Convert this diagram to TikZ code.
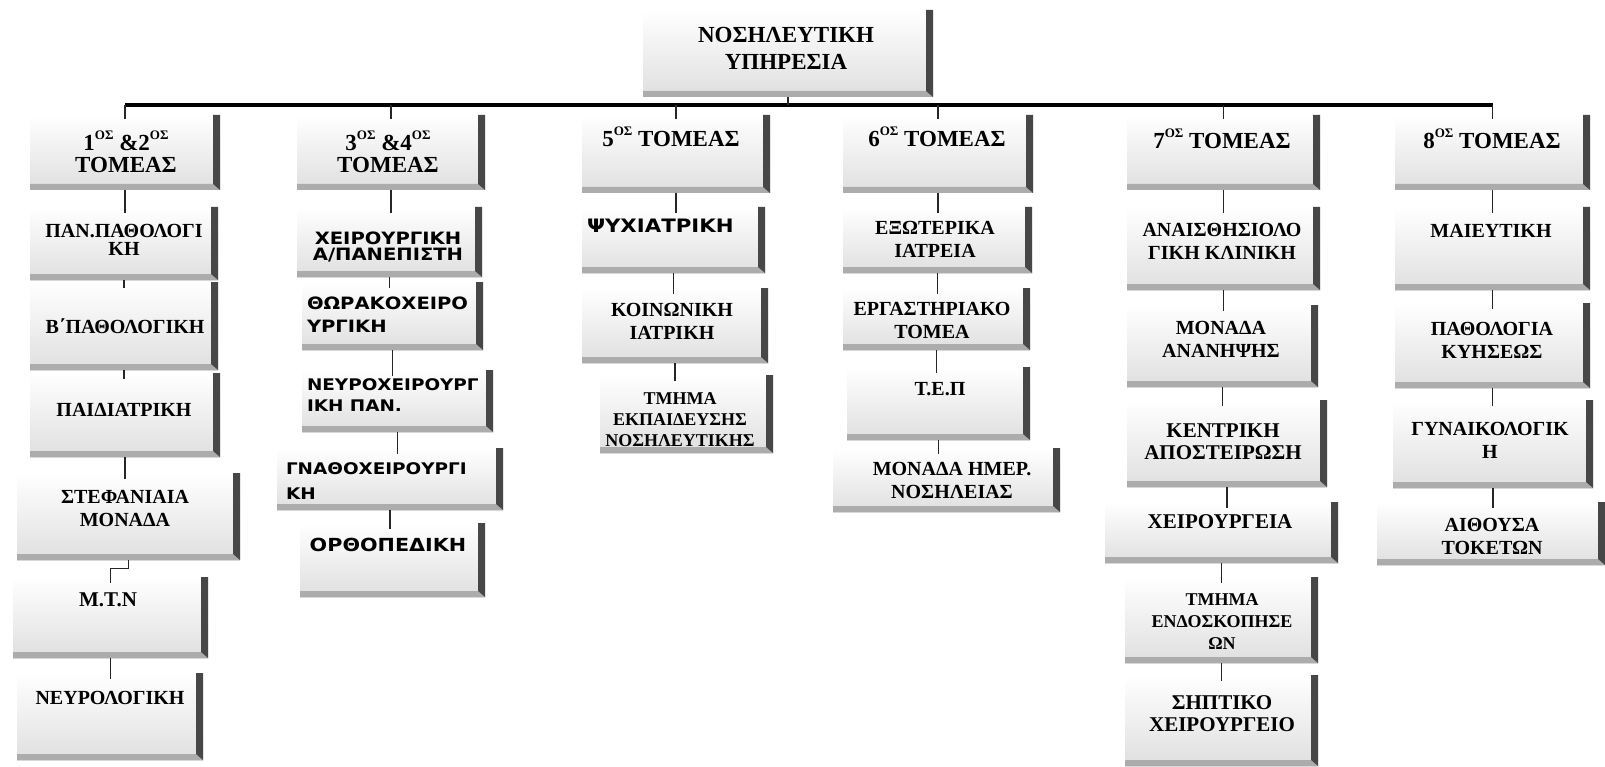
\documentclass[tikz,border=0pt]{standalone}
\usepackage{fontspec}
\setmainfont{Liberation Serif}
\newfontfamily\sansx{DejaVu Sans}[FakeStretch=1.15]
\usetikzlibrary{calc}
\newcommand\fs[2]{\fontsize{#1pt}{#2pt}\selectfont}
\newcommand\sups[1]{\raisebox{0.5em}{\fontsize{13pt}{13pt}\selectfont #1}}
\tikzset{
  bx/.style={inner sep=0pt, outer sep=0pt, top color=white, bottom color=gray!25,
    path picture={
      \coordinate (pne) at (path picture bounding box.north east);
      \coordinate (pse) at (path picture bounding box.south east);
      \coordinate (psw) at (path picture bounding box.south west);
      \fill[gray!65] (psw) -- (pse) -- ([shift={(-7pt,6pt)}]pse) -- ([yshift=6pt]psw) -- cycle;
      \fill[black!72] (pne) -- (pse) -- ([shift={(-7pt,6pt)}]pse) -- ([xshift=-7pt]pne) -- cycle;
    }},
  txt/.style={inner sep=0pt, outer sep=0pt, align=center, text=black, font=\bfseries\fs{20}{23}},
  hdr/.style={font=\bfseries\fs{23}{22}},
  conn/.style={draw=black!85, line width=1.6pt},
  busline/.style={draw=black, line width=4pt},
}
\newcommand\obox[9][]{%
  \node[bx, minimum width={#5-#3}, minimum height={#6-#4}] (#2) at ({(#3+#5)/2},{(#4+#6)/2}) {};
  \node[txt,#1] (#2t) at (#7,#8) {#9};}
\newcommand\lnk[2]{\draw[conn] (#1.south) -- ([yshift=-6pt]#1.south |- #2.north);}
\newcommand\jlnk[2]{\draw[conn] (#1.south) |- ($(#1.south)!0.5!(#2.north)$) -| ([yshift=-6pt]#2.north);}
\begin{document}
\begin{tikzpicture}[x=1pt,y=-1pt]
\useasboundingbox (0,0) rectangle (1605,767);
\fill[white] (0,0) rectangle (1605,767);

% top
\obox[font=\bfseries\fs{23}{27}]{top}{643}{10}{933}{97}{786}{48}{ΝΟΣΗΛΕΥΤΙΚΗ\\ΥΠΗΡΕΣΙΑ}

% headers
\obox[hdr]{h1}{30}{115}{220}{190}{126}{152}{1\sups{ΟΣ} \&2\sups{ΟΣ}\\ΤΟΜΕΑΣ}
\obox[hdr]{h2}{297}{115}{485}{190}{388}{152}{3\sups{ΟΣ} \&4\sups{ΟΣ}\\ΤΟΜΕΑΣ}
\obox[hdr]{h3}{582}{115}{770}{193}{671}{137}{5\sups{ΟΣ} ΤΟΜΕΑΣ}
\obox[hdr]{h4}{843}{115}{1033}{193}{937}{137}{6\sups{ΟΣ} ΤΟΜΕΑΣ}
\obox[hdr]{h5}{1127}{115}{1320}{190}{1222}{139}{7\sups{ΟΣ} ΤΟΜΕΑΣ}
\obox[hdr]{h6}{1395}{115}{1590}{190}{1492}{139}{8\sups{ΟΣ} ΤΟΜΕΑΣ}

% column 1
\obox[font=\bfseries\fs{20}{18}]{a1}{30}{207}{218}{280}{124}{240}{ΠΑΝ.ΠΑΘΟΛΟΓΙ\\ΚΗ}
\obox{a2}{30}{282}{218}{370}{125}{326}{Β΄ΠΑΘΟΛΟΓΙΚΗ}
\obox{a3}{30}{373}{220}{457}{124}{410}{ΠΑΙΔΙΑΤΡΙΚΗ}
\obox{a4}{17}{473}{240}{560}{125}{508}{ΣΤΕΦΑΝΙΑΙΑ\\ΜΟΝΑΔΑ}
\obox[font=\bfseries\fs{21}{23}]{a5}{13}{577}{208}{658}{108}{600}{Μ.Τ.Ν}
\obox{a6}{17}{673}{203}{760}{110}{698}{ΝΕΥΡΟΛΟΓΙΚΗ}

% column 2
\obox[font=\sansx\bfseries\fs{17}{16}]{b1}{297}{207}{482}{277}{388}{247}{ΧΕΙΡΟΥΡΓΙΚΗ\\Α/ΠΑΝΕΠΙΣΤΗ}
\obox[font=\sansx\bfseries\fs{17}{23},anchor=west,align=left]{b2}{302}{282}{483}{350}{307}{315}{ΘΩΡΑΚΟΧΕΙΡΟ\\ΥΡΓΙΚΗ}
\obox[font=\sansx\bfseries\fs{16}{21},anchor=west,align=left]{b3}{302}{370}{493}{432}{307}{395}{ΝΕΥΡΟΧΕΙΡΟΥΡΓ\\ΙΚΗ ΠΑΝ.}
\obox[font=\sansx\bfseries\fs{16}{25},anchor=west,align=left]{b4}{277}{448}{503}{510}{286}{481}{ΓΝΑΘΟΧΕΙΡΟΥΡΓΙ\\ΚΗ}
\obox[font=\sansx\bfseries\fs{18}{20}]{b5}{300}{523}{485}{597}{388}{545}{ΟΡΘΟΠΕΔΙΚΗ}

% column 3
\obox[font=\sansx\bfseries\fs{18.5}{20},anchor=west]{c1}{582}{207}{765}{273}{587}{226}{ΨΥΧΙΑΤΡΙΚΗ}
\obox{c2}{582}{288}{768}{363}{672}{321}{ΚΟΙΝΩΝΙΚΗ\\ΙΑΤΡΙΚΗ}
\obox[font=\bfseries\fs{18}{21}]{c3}{600}{375}{773}{453}{680}{420}{ΤΜΗΜΑ\\ΕΚΠΑΙΔΕΥΣΗΣ\\ΝΟΣΗΛΕΥΤΙΚΗΣ}

% column 4
\obox{d1}{843}{207}{1032}{273}{935}{239}{ΕΞΩΤΕΡΙΚΑ\\ΙΑΤΡΕΙΑ}
\obox{d2}{843}{288}{1030}{350}{932}{320}{ΕΡΓΑΣΤΗΡΙΑΚΟ\\ΤΟΜΕΑ}
\obox{d3}{847}{367}{1030}{440}{940}{389}{Τ.Ε.Π}
\obox{d4}{833}{448}{1060}{512}{952}{480}{ΜΟΝΑΔΑ ΗΜΕΡ.\\ΝΟΣΗΛΕΙΑΣ}

% column 5
\obox{e1}{1127}{207}{1320}{290}{1222}{241}{ΑΝΑΙΣΘΗΣΙΟΛΟ\\ΓΙΚΗ ΚΛΙΝΙΚΗ}
\obox{e2}{1127}{305}{1318}{387}{1221}{339}{ΜΟΝΑΔΑ\\ΑΝΑΝΗΨΗΣ}
\obox[font=\bfseries\fs{21}{22}]{e3}{1127}{400}{1327}{487}{1223}{442}{ΚΕΝΤΡΙΚΗ\\ΑΠΟΣΤΕΙΡΩΣΗ}
\obox[font=\bfseries\fs{21}{22}]{e4}{1105}{502}{1338}{563}{1220}{522}{ΧΕΙΡΟΥΡΓΕΙΑ}
\obox[font=\bfseries\fs{18}{22}]{e5}{1125}{577}{1318}{663}{1222}{622}{ΤΜΗΜΑ\\ΕΝΔΟΣΚΟΠΗΣΕ\\ΩΝ}
\obox[font=\bfseries\fs{21}{22}]{e6}{1125}{675}{1318}{766}{1222}{714}{ΣΗΠΤΙΚΟ\\ΧΕΙΡΟΥΡΓΕΙΟ}

% column 6
\obox{f1}{1395}{207}{1590}{290}{1491}{231}{ΜΑΙΕΥΤΙΚΗ}
\obox{f2}{1395}{303}{1590}{388}{1492}{340}{ΠΑΘΟΛΟΓΙΑ\\ΚΥΗΣΕΩΣ}
\obox{f3}{1393}{400}{1593}{488}{1490}{440}{ΓΥΝΑΙΚΟΛΟΓΙΚ\\Η}
\obox{f4}{1377}{502}{1605}{565}{1492}{536}{ΑΙΘΟΥΣΑ\\ΤΟΚΕΤΩΝ}

% bus
\coordinate (bus) at (788,105);
\draw[busline] (h1.north |- bus) -- (h6.north |- bus);
\draw[conn] (top.south) -- (top.south |- bus);
\foreach \h in {h1,h2,h3,h4,h5,h6} \draw[conn] (\h.north |- bus) -- ([yshift=-4pt]\h.north);

% links
\lnk{h1}{a1}\lnk{a1}{a2}\lnk{a2}{a3}\lnk{a3}{a4}\jlnk{a4}{a5}\lnk{a5}{a6}
\lnk{h2}{b1}\lnk{b1}{b2}\lnk{b2}{b3}\lnk{b3}{b4}\lnk{b4}{b5}
\lnk{h3}{c1}\lnk{c1}{c2}\lnk{c2}{c3}
\lnk{h4}{d1}\lnk{d1}{d2}\lnk{d2}{d3}\lnk{d3}{d4}
\lnk{h5}{e1}\lnk{e1}{e2}\lnk{e2}{e3}\lnk{e3}{e4}\lnk{e4}{e5}\lnk{e5}{e6}
\lnk{h6}{f1}\lnk{f1}{f2}\lnk{f2}{f3}\lnk{f3}{f4}
\end{tikzpicture}
\end{document}
